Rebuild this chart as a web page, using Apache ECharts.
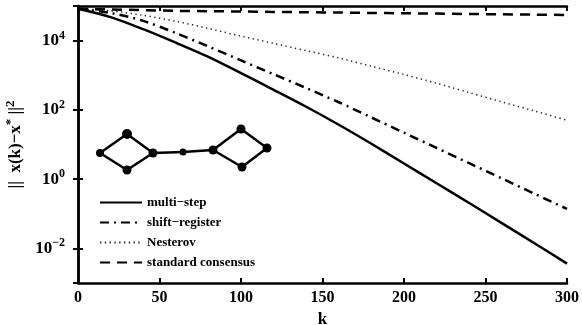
<!DOCTYPE html>
<html>
<head>
<meta charset="utf-8">
<script src="https://cdn.jsdelivr.net/npm/echarts@6/dist/echarts.min.js"></script>
<style>
html,body{margin:0;padding:0;background:#fff;}
#c{width:582px;height:325px;}
</style>
</head>
<body>
<div id="c"></div>
<script>
const kValues = [0,20,40,60,80,100,120,140,160,180,200,220,240,260,280,300];
const seriesNames = ['multi\u2212step','shift\u2212register','Nesterov','standard consensus'];
const multiStep = [83200,47900,21400,8710,3390,1150,380,123,37.2,10.5,2.82,0.759,0.204,0.0537,0.0141,0.00363];
const shiftRegister = [83200,63100,37200,16600,6760,2690,1070,427,166,60.3,21.9,7.94,2.88,1.05,0.380,0.138];
const nesterov = [83200,72400,53700,36300,22400,13500,8320,5130,3160,1820,1050,589,316,170,93.3,50.1];
const standardConsensus = [83200,79400,75900,72400,70800,69200,67600,66100,64600,63100,61700,60300,58900,57500,56200,55000];
const xTicks = [0,50,100,150,200,250,300];
// inset network diagram (diagram units)
const netNodes = [
  {name:'A', x:0, y:0, s:8},
  {name:'B', x:27, y:-19, s:10},
  {name:'C', x:27, y:17, s:9},
  {name:'D', x:53, y:0, s:9},
  {name:'E', x:83, y:-1, s:7},
  {name:'F', x:113, y:-3, s:9},
  {name:'G', x:141, y:-24, s:9},
  {name:'H', x:167, y:-5, s:9},
  {name:'I', x:142, y:14, s:9}
];
const netEdges = [['A','B'],['A','C'],['B','D'],['C','D'],['D','E'],['E','F'],['F','G'],['F','I'],['G','H'],['I','H']];

const FONT = '"Liberation Serif", "Times New Roman", serif';
const pair = arr => kValues.map((k,i)=>[k,arr[i]]);

const chart = echarts.init(document.getElementById('c'), null, {renderer:'canvas'});
const axisLine = {show:true, lineStyle:{color:'#000', width:2.5}};
const tickStyle = {show:true, inside:true, length:5, lineStyle:{color:'#000', width:2}};

function yLabel(v){
  const l = Math.log10(v);
  const e = Math.round(l);
  if (Math.abs(l-e) > 1e-6 || e % 2 !== 0) return '';
  return '{b|10}{s|' + (e<0 ? '\u2212'+(-e) : e) + '}';
}

const option = {
  animation:false,
  backgroundColor:'#fff',
  grid:{left:78, right:15, top:6, bottom:42, containLabel:false, outerBoundsMode:'none'},
  legend:{
    orient:'vertical', left:94, top:191, itemWidth:42, itemHeight:12, itemGap:7,
    data:seriesNames,
    itemStyle:{color:'rgba(0,0,0,0)', borderWidth:0, opacity:0},
    textStyle:{fontFamily:FONT, fontWeight:'bold', fontSize:13, color:'#000'},
    backgroundColor:'rgba(255,255,255,0)'
  },
  xAxis:[{
    type:'value', min:0, max:300, interval:50, position:'bottom',
    name:'k', nameLocation:'middle', nameGap:23,
    nameTextStyle:{fontFamily:FONT, fontWeight:'bold', fontSize:17, color:'#000'},
    axisLine:axisLine, axisTick:tickStyle, splitLine:{show:false},
    axisLabel:{fontFamily:FONT, fontWeight:'bold', fontSize:16, color:'#000', margin:7,
      formatter: v => xTicks.includes(v) ? String(v) : ''}
  },{
    type:'value', min:0, max:300, interval:50, position:'top',
    axisLine:axisLine, axisTick:tickStyle, splitLine:{show:false}, axisLabel:{show:false}
  }],
  yAxis:[{
    type:'log', logBase:100, min:0.001, max:100000, position:'left',
    name:'{n|||  x(k)\u2212x}{s|*}{n| ||}{s|2}', nameLocation:'middle', nameGap:49, nameRotate:90,
    nameTextStyle:{fontFamily:FONT, color:'#000',
      rich:{n:{fontFamily:FONT, fontWeight:'bold', fontSize:17, color:'#000'},
            s:{fontFamily:FONT, fontWeight:'bold', fontSize:13, color:'#000', padding:[0,0,10,0]}}},
    axisLine:axisLine, axisTick:tickStyle, splitLine:{show:false}, minorTick:{show:false},
    axisLabel:{margin:13, formatter:yLabel, showMinLabel:false, showMaxLabel:false,
      rich:{b:{fontFamily:FONT, fontWeight:'bold', fontSize:17, color:'#000'},
            s:{fontFamily:FONT, fontWeight:'bold', fontSize:12, color:'#000', padding:[0,0,10,0]}}}
  },{
    type:'log', logBase:100, min:0.001, max:100000, position:'right',
    axisLine:axisLine, axisTick:tickStyle, splitLine:{show:false}, axisLabel:{show:false}
  }],
  series:[
    {name:seriesNames[0], type:'line', data:pair(multiStep), symbol:'none', smooth:0.3,
     lineStyle:{color:'#000', width:2.5, type:'solid'}, itemStyle:{color:'#000'}},
    {name:seriesNames[1], type:'line', data:pair(shiftRegister), symbol:'none', smooth:0.3,
     lineStyle:{color:'#000', width:2.5, type:[9,5,2,5]}, itemStyle:{color:'#000'}},
    {name:seriesNames[2], type:'line', data:pair(nesterov), symbol:'none', smooth:0.3,
     lineStyle:{color:'#222', width:1.5, type:[1.3,3.5]}, itemStyle:{color:'#222'}},
    {name:seriesNames[3], type:'line', data:pair(standardConsensus), symbol:'none', smooth:0.3,
     lineStyle:{color:'#000', width:2.5, type:[10,7]}, itemStyle:{color:'#000'}},
    {name:'network', type:'graph', layout:'none', left:100, top:129, width:167, height:41,
     roam:false, silent:true, symbol:'circle',
     data:netNodes.map(n=>({name:n.name, x:n.x, y:n.y, symbolSize:n.s})),
     links:netEdges.map(e=>({source:e[0], target:e[1]})),
     itemStyle:{color:'#000'}, label:{show:false},
     lineStyle:{color:'#000', width:2.5, opacity:1, curveness:0}}
  ]
};
chart.setOption(option);
</script>
</body>
</html>
